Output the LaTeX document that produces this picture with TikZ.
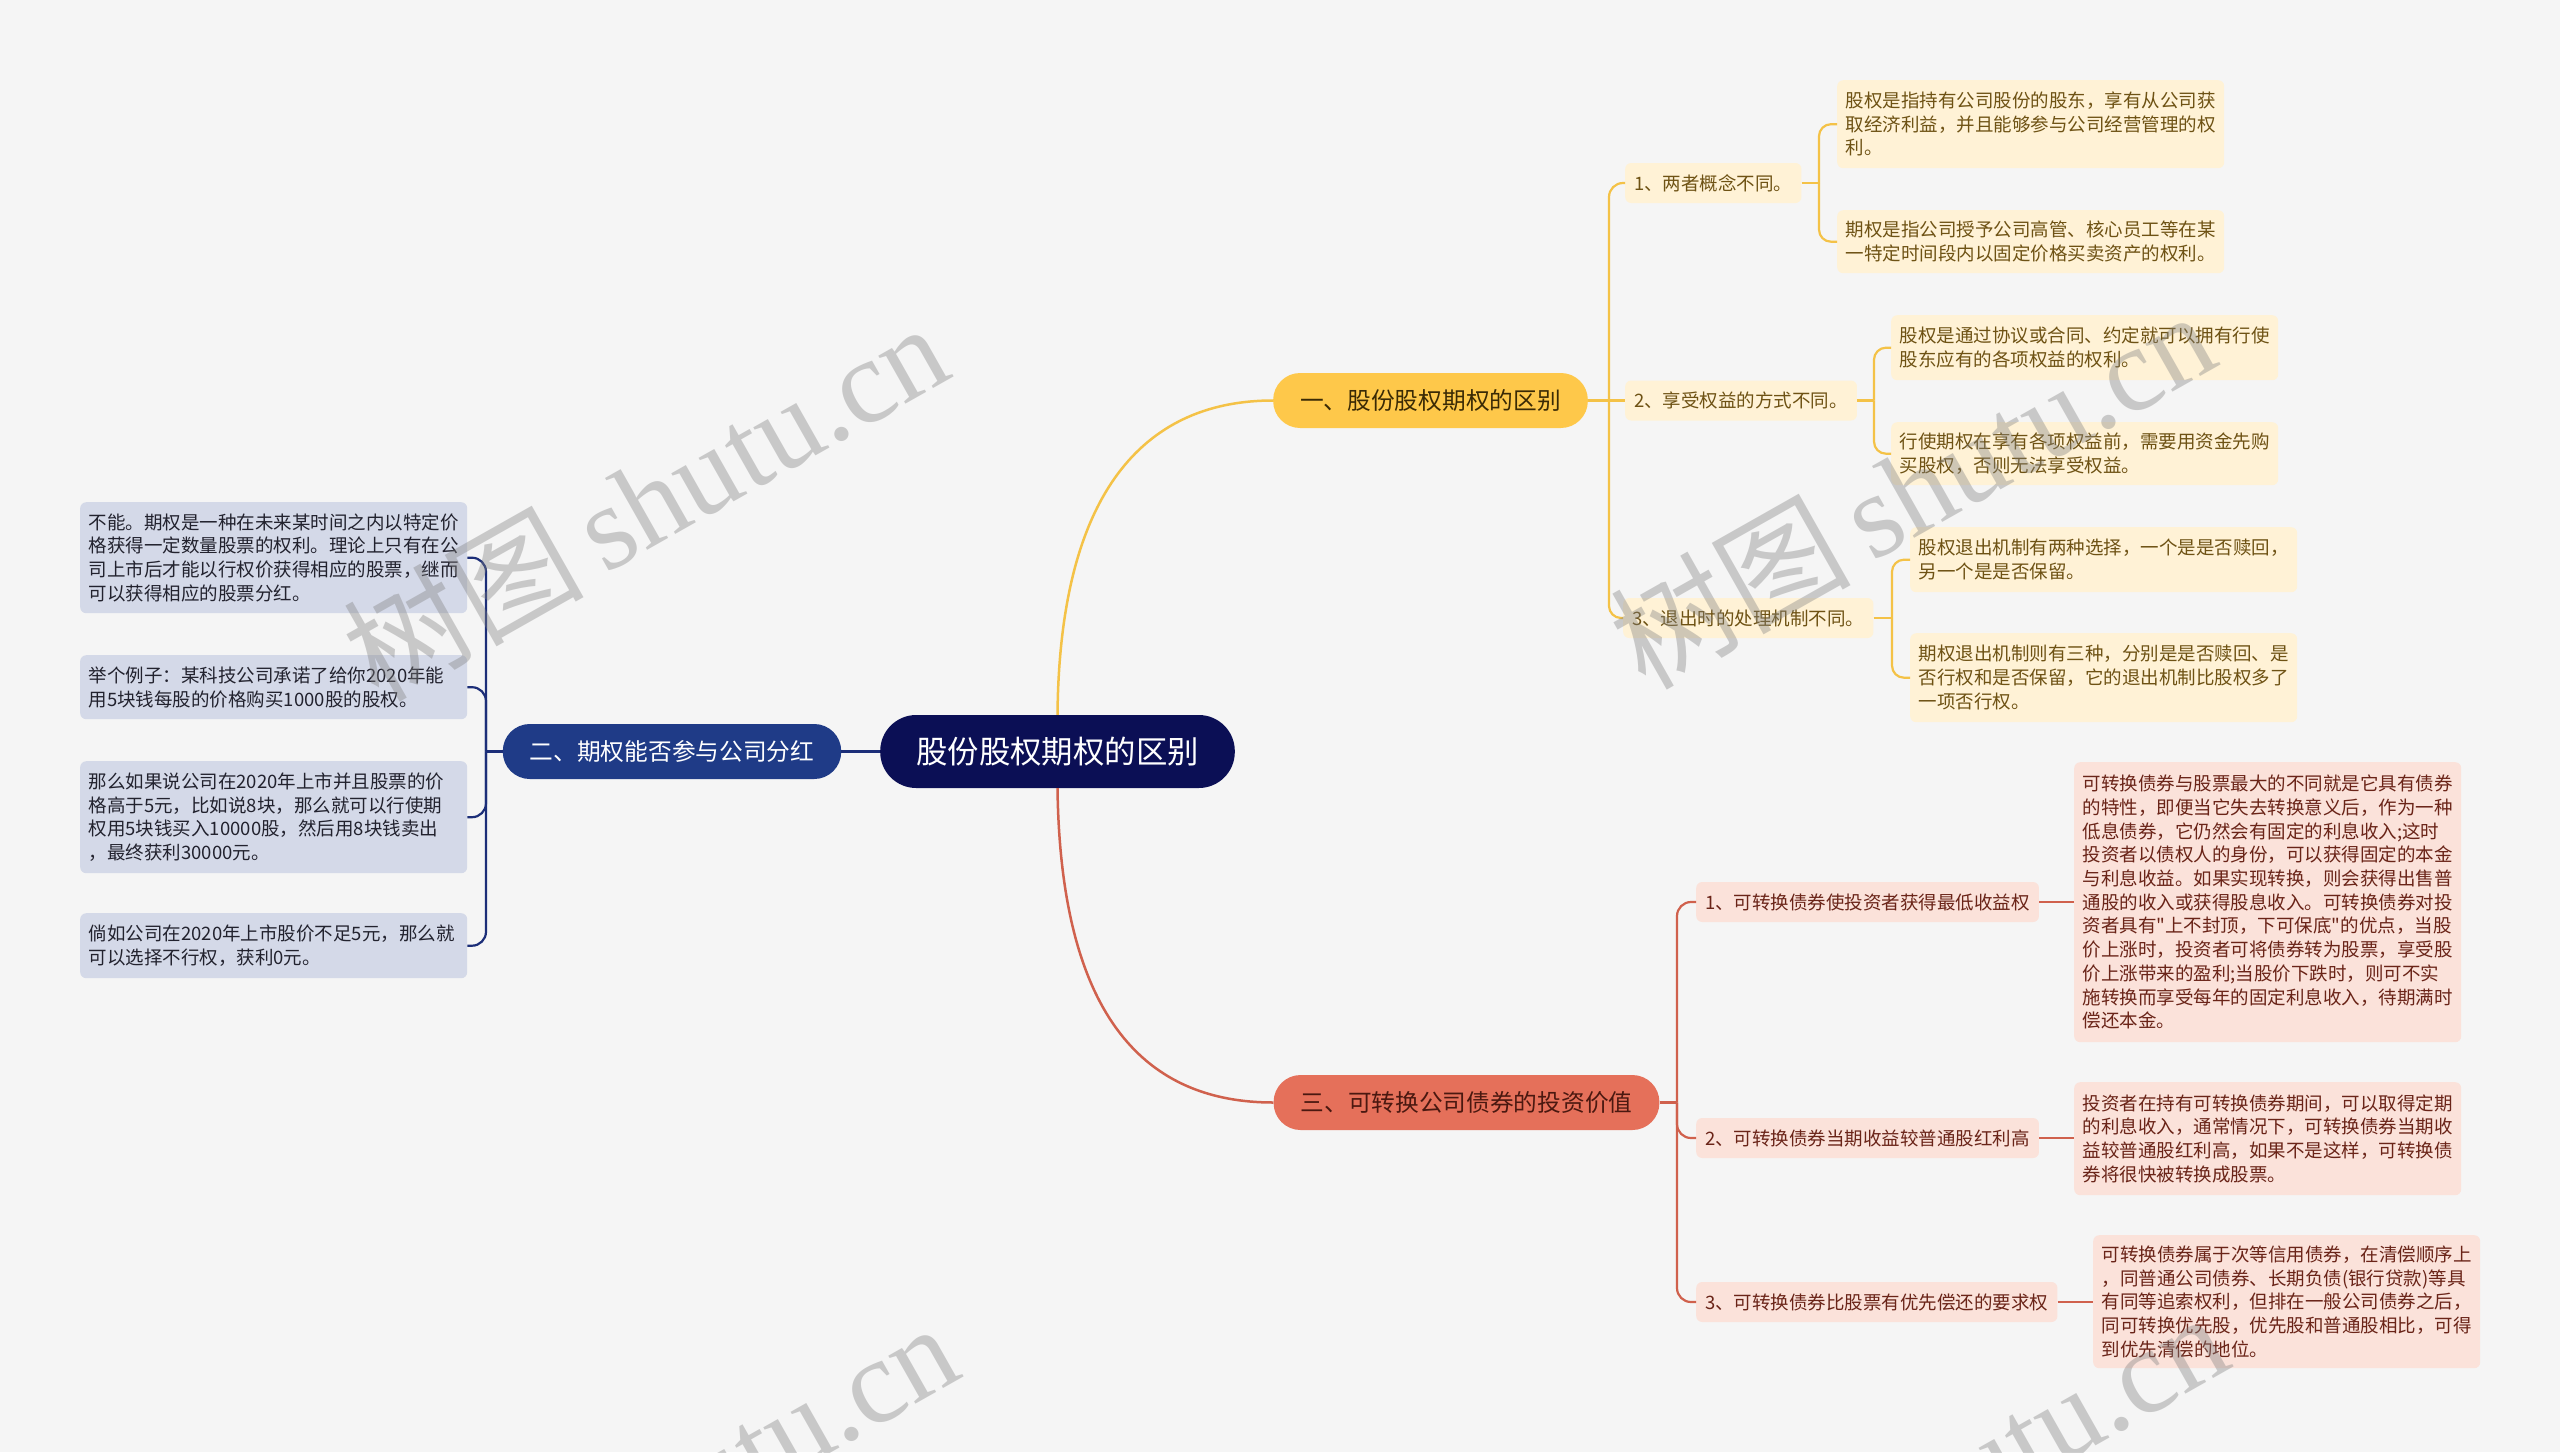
\documentclass[tikz,border=0pt]{standalone}
\usepackage{fontspec}
\setmainfont{Noto Sans CJK SC}
\newfontfamily\rawcjk{Noto Sans CJK SC}
\newfontfamily\wmlatin{Liberation Serif}
\newfontfamily\wmcjk{Noto Sans CJK SC}
\newcommand{\sq}{{\rawcjk"}}
\definecolor{bgc}{HTML}{F5F5F5}
\definecolor{rootc}{HTML}{0B0F55}
\definecolor{bluec}{HTML}{1F3B87}
\definecolor{bluel}{HTML}{1C2E78}
\definecolor{bluef}{HTML}{D4D9E8}
\definecolor{bluet}{HTML}{22222E}
\definecolor{yelc}{HTML}{FEC84A}
\definecolor{yell}{HTML}{F4C247}
\definecolor{yelf}{HTML}{FFF2D6}
\definecolor{yelt}{HTML}{6E5214}
\definecolor{yelmt}{HTML}{3A2A05}
\definecolor{redc}{HTML}{E5705A}
\definecolor{redl}{HTML}{D0614D}
\definecolor{redf}{HTML}{FBE2DA}
\definecolor{redt}{HTML}{6A2418}
\definecolor{redmt}{HTML}{4A1810}
\begin{document}
\begin{tikzpicture}[x=1pt,y=-1pt,
  leafbox/.style={rectangle, rounded corners=6pt, text width=370pt, inner xsep=8.5pt, inner ysep=3pt, align=left, anchor=north west, font=\fontsize{18.5}{23.7}\selectfont},
  yleaf/.style={leafbox, fill=yelf, text=yelt},
  rleaf/.style={leafbox, fill=redf, text=redt},
  bleaf/.style={leafbox, fill=bluef, text=bluet},
  subbox/.style={rectangle, rounded corners=6pt, inner xsep=9pt, inner ysep=0pt, minimum height=40pt, anchor=west, font=\fontsize{18.5}{22}\selectfont},
  ysub/.style={subbox, fill=yelf, text=yelt},
  rsub/.style={subbox, fill=redf, text=redt},
  mainbox/.style={rectangle, rounded corners=27pt, inner xsep=27pt, inner ysep=0pt, minimum height=55pt, font=\fontsize{23.7}{28}\selectfont},
  yline/.style={draw=yell, line width=2.2pt},
  rline/.style={draw=redl, line width=2.2pt},
  bline/.style={draw=bluel, line width=2.2pt},
  wm/.style={rotate=29.5, text=gray, text opacity=0.38, font=\fontsize{120}{130}\selectfont, inner sep=0pt}
]
\useasboundingbox (0,0) rectangle (2560,1452);
\fill[bgc] (0,0) rectangle (2560,1452);

% ---- root and main branches
\node[rectangle, rounded corners=36pt, fill=rootc, text=white, inner xsep=36pt, inner ysep=0pt, minimum height=73pt, font=\fontsize{31.4}{36}\selectfont] (root) at (1057.5,751.5) {股份股权期权的区别};
\node[mainbox, fill=yelc, text=yelmt] (b1) at (1430.5,400.5) {一、股份股权期权的区别};
\node[mainbox, fill=bluec, text=white] (b2) at (672,751.5) {二、期权能否参与公司分红};
\node[mainbox, fill=redc, text=redmt] (b3) at (1466.5,1102.5) {三、可转换公司债券的投资价值};

\draw[yell, line width=2.5pt] (root.north) .. controls +(2,-232) and +(-122,0) .. (b1.west);
\draw[redl, line width=2.5pt] (root.south) .. controls +(3,232) and +(-126,0) .. (b3.west);
\draw[bluel, line width=2.5pt] (root.west) -- (b2.east);

% ---- branch one
\node[ysub] (s1) at (1625,183) {1、两者概念不同。};
\node[ysub] (s2) at (1625,400.5) {2、享受权益的方式不同。};
\node[ysub] (s3) at (1623,618) {3、退出时的处理机制不同。};

\node[yleaf, minimum height=88pt] (l1a) at (1837,80) {股权是指持有公司股份的股东，享有从公司获\\取经济利益，并且能够参与公司经营管理的权\\利。};
\node[yleaf, minimum height=63pt] (l1b) at (1837,210) {期权是指公司授予公司高管、核心员工等在某\\一特定时间段内以固定价格买卖资产的权利。};
\node[yleaf, minimum height=65pt] (l2a) at (1891,315) {股权是通过协议或合同、约定就可以拥有行使\\股东应有的各项权益的权利。};
\node[yleaf, minimum height=63pt] (l2b) at (1891,422) {行使期权在享有各项权益前，需要用资金先购\\买股权，否则无法享受权益。};
\node[yleaf, minimum height=65pt] (l3a) at (1910,527) {股权退出机制有两种选择，一个是是否赎回，\\另一个是是否保留。};
\node[yleaf, minimum height=89pt] (l3b) at (1910,633) {期权退出机制则有三种，分别是是否赎回、是\\否行权和是否保留，它的退出机制比股权多了\\一项否行权。};

\coordinate (jy) at (1609,400.5);
\draw[yline] (b1.east) -- (jy);
\draw[yline, rounded corners=14pt] (jy) |- (s1.west);
\draw[yline] (jy) -- (s2.west);
\draw[yline, rounded corners=12pt] (jy) |- (s3.west);

\coordinate (jy1) at (1819,183);
\draw[yline] (s1.east) -- (jy1);
\draw[yline, rounded corners=12pt] (jy1) |- (l1a.west);
\draw[yline, rounded corners=12pt] (jy1) |- (l1b.west);

\coordinate (jy2) at (1874,400.5);
\draw[yline] (s2.east) -- (jy2);
\draw[yline, rounded corners=12pt] (jy2) |- (l2a.west);
\draw[yline, rounded corners=12pt] (jy2) |- (l2b.west);

\coordinate (jy3) at (1892,618);
\draw[yline] (s3.east) -- (jy3);
\draw[yline, rounded corners=12pt] (jy3) |- (l3a.west);
\draw[yline, rounded corners=12pt] (jy3) |- (l3b.west);

% ---- branch two
\node[bleaf, minimum height=111pt] (la) at (80,502) {不能。期权是一种在未来某时间之内以特定价\\格获得一定数量股票的权利。理论上只有在公\\司上市后才能以行权价获得相应的股票，继而\\可以获得相应的股票分红。};
\node[bleaf, minimum height=64pt] (lb) at (80,655) {举个例子：某科技公司承诺了给你2020年能\\用5块钱每股的价格购买1000股的股权。};
\node[bleaf, minimum height=112pt] (lc) at (80,761) {那么如果说公司在2020年上市并且股票的价\\格高于5元，比如说8块，那么就可以行使期\\权用5块钱买入10000股，然后用8块钱卖出\\，最终获利30000元。};
\node[bleaf, minimum height=65pt] (ld) at (80,913) {倘如公司在2020年上市股价不足5元，那么就\\可以选择不行权，获利0元。};

\coordinate (jb) at (486,751.5);
\draw[bline] (b2.west) -- (jb);
\draw[bline, rounded corners=14pt] (jb) |- (la.east);
\draw[bline, rounded corners=14pt] (jb) |- (lb.east);
\draw[bline, rounded corners=14pt] (jb) |- (lc.east);
\draw[bline, rounded corners=14pt] (jb) |- (ld.east);

% ---- branch three
\node[rsub] (r1) at (1696,902) {1、可转换债券使投资者获得最低收益权};
\node[rsub] (r2) at (1696,1138) {2、可转换债券当期收益较普通股红利高};
\node[rsub] (r3) at (1696,1302) {3、可转换债券比股票有优先偿还的要求权};

\node[rleaf, minimum height=280pt] (rl1) at (2074,762) {可转换债券与股票最大的不同就是它具有债券\\的特性，即便当它失去转换意义后，作为一种\\低息债券，它仍然会有固定的利息收入;这时\\投资者以债权人的身份，可以获得固定的本金\\与利息收益。如果实现转换，则会获得出售普\\通股的收入或获得股息收入。可转换债券对投\\资者具有\sq 上不封顶，下可保底\sq 的优点，当股\\价上涨时，投资者可将债券转为股票，享受股\\价上涨带来的盈利;当股价下跌时，则可不实\\施转换而享受每年的固定利息收入，待期满时\\偿还本金。};
\node[rleaf, minimum height=113pt] (rl2) at (2074,1082) {投资者在持有可转换债券期间，可以取得定期\\的利息收入，通常情况下，可转换债券当期收\\益较普通股红利高，如果不是这样，可转换债\\券将很快被转换成股票。};
\node[rleaf, minimum height=133pt] (rl3) at (2093,1235) {可转换债券属于次等信用债券，在清偿顺序上\\，同普通公司债券、长期负债(银行贷款)等具\\有同等追索权利，但排在一般公司债券之后，\\同可转换优先股，优先股和普通股相比，可得\\到优先清偿的地位。};

\coordinate (jr) at (1677,1102.5);
\draw[rline] (b3.east) -- (jr);
\draw[rline, rounded corners=14pt] (jr) |- (r1.west);
\draw[rline, rounded corners=14pt] (jr) |- (r2.west);
\draw[rline, rounded corners=14pt] (jr) |- (r3.west);
\draw[rline] (r1.east) -- (r1.east -| rl1.west);
\draw[rline] (r2.east) -- (r2.east -| rl2.west);
\draw[rline] (r3.east) -- (r3.east -| rl3.west);

% ---- watermarks
\begin{scope}
\clip (0,0) rectangle (2560,1452);
\node[wm] (wm1) at (645,500) {{\wmcjk 树图}\,{\wmlatin shutu.cn}};
\node[wm] (wm2) at (1912,488) {{\wmcjk 树图}\,{\wmlatin shutu.cn}};
\node[wm] (wm3) at (655,1500) {{\wmcjk 树图}\,{\wmlatin shutu.cn}};
\node[wm] (wm4) at (1925,1490) {{\wmcjk 树图}\,{\wmlatin shutu.cn}};
\end{scope}
\end{tikzpicture}
\end{document}
